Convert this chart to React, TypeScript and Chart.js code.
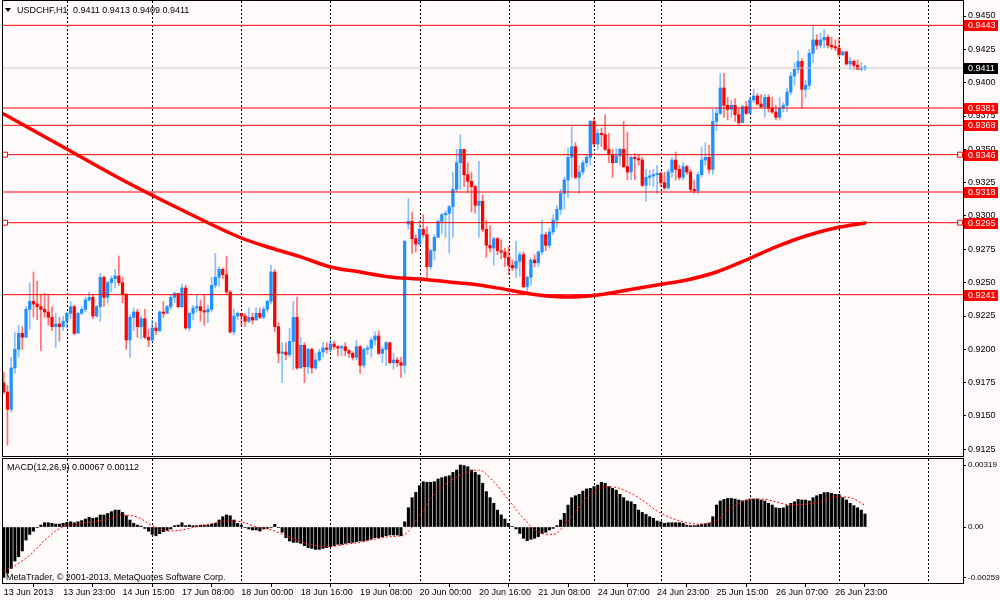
import { useEffect, useRef } from "react"
import { Chart, registerables } from "chart.js"

Chart.register(...registerables)

const FONT = "'Liberation Sans', Arial, sans-serif"
const BG = "#FFFAFA"
const UP = "#1E90FF"
const DOWN = "#FF0000"
const UP_WICK = "rgba(30, 144, 255, 0.55)"
const DOWN_WICK = "rgba(255, 0, 0, 0.55)"

// USDCHF H1, first bar 13 Jun 2013 07:00
const closes = [
  0.9168, 0.9155, 0.9186, 0.92, 0.9212, 0.9209, 0.923, 0.9236, 0.9234, 0.9232,
  0.923, 0.9228, 0.9224, 0.9217, 0.9219, 0.9217, 0.9221, 0.9227, 0.9232, 0.9212,
  0.9227, 0.923, 0.9237, 0.9239, 0.9225, 0.9232, 0.9254, 0.9239, 0.925, 0.9253,
  0.9255, 0.925, 0.9241, 0.9207, 0.9224, 0.9228, 0.9217, 0.9223, 0.9209, 0.9207,
  0.9216, 0.9214, 0.9228, 0.9227, 0.9232, 0.9239, 0.9242, 0.9232, 0.9246, 0.9216,
  0.9227, 0.9231, 0.9232, 0.9229, 0.9228, 0.923, 0.9248, 0.9254, 0.926, 0.9256,
  0.9243, 0.9213, 0.9225, 0.9227, 0.9225, 0.9221, 0.9224, 0.9222, 0.9227, 0.9224,
  0.923, 0.9236, 0.9258, 0.9217, 0.9197, 0.9198, 0.9196, 0.9206, 0.9224, 0.9186,
  0.9203, 0.9187, 0.92, 0.9186, 0.9192, 0.9198, 0.9201, 0.92, 0.9204, 0.9202,
  0.9201, 0.9202, 0.9199, 0.9197, 0.9194, 0.9202, 0.9188, 0.92, 0.9201, 0.9207,
  0.921, 0.9197, 0.92, 0.9205, 0.919, 0.9192, 0.919, 0.9188, 0.9281, 0.9296,
  0.9283, 0.9279, 0.929, 0.9286, 0.9262, 0.9274, 0.9284, 0.9296, 0.9301, 0.9302,
  0.9307, 0.932, 0.934, 0.935, 0.9331, 0.9326, 0.9322, 0.9308, 0.9311, 0.929,
  0.9278, 0.9276, 0.9283, 0.9274, 0.9273, 0.9269, 0.9263, 0.9261, 0.9266, 0.9271,
  0.9247, 0.9254, 0.9267, 0.9265, 0.9273, 0.9286, 0.9278, 0.9288, 0.9297, 0.9305,
  0.9317, 0.9327, 0.9344, 0.9352, 0.9329, 0.9333, 0.934, 0.9344, 0.9371, 0.9354,
  0.9362, 0.9361, 0.935, 0.9346, 0.934, 0.9345, 0.935, 0.9337, 0.9333, 0.9344,
  0.9343, 0.9342, 0.9323, 0.9329, 0.933, 0.9331, 0.9332, 0.9325, 0.9321, 0.9333,
  0.9342, 0.9335, 0.9329, 0.9337, 0.9333, 0.932, 0.9319, 0.9331, 0.9342, 0.9344,
  0.9335, 0.9371, 0.9377, 0.9396, 0.9383, 0.938, 0.9383, 0.9376, 0.937, 0.9382,
  0.9377, 0.9387, 0.939, 0.9384, 0.9382, 0.9389, 0.9381, 0.9378, 0.9374, 0.9381,
  0.9383, 0.9393, 0.9405, 0.941, 0.9416, 0.9395, 0.9398, 0.9422, 0.9432, 0.9428,
  0.9432, 0.9434, 0.9428, 0.9427, 0.9426, 0.9421, 0.9423, 0.9414, 0.9416, 0.9413,
  0.941, 0.9411, 0.9411,
]

const highs = [
  0.9183, 0.9173, 0.9194, 0.9213, 0.9218, 0.9217, 0.9232, 0.925, 0.9258, 0.9251,
  0.9241, 0.9242, 0.9241, 0.9232, 0.9227, 0.9224, 0.9225, 0.9228, 0.9236, 0.9233,
  0.9228, 0.9232, 0.9239, 0.9243, 0.9241, 0.9233, 0.9257, 0.9255, 0.9251, 0.9255,
  0.926, 0.927, 0.9254, 0.9242, 0.9226, 0.9231, 0.923, 0.9225, 0.923, 0.9215,
  0.9222, 0.922, 0.9229, 0.9236, 0.9233, 0.9241, 0.9243, 0.9242, 0.9249, 0.9248,
  0.9228, 0.9233, 0.9241, 0.9237, 0.9241, 0.9233, 0.9254, 0.9272, 0.9262, 0.9261,
  0.927, 0.9244, 0.923, 0.9228, 0.9227, 0.9227, 0.9231, 0.9227, 0.9231, 0.9231,
  0.9232, 0.9237, 0.9263, 0.926, 0.922, 0.9205, 0.9205, 0.9216, 0.9236, 0.9239,
  0.9209, 0.9205, 0.9201, 0.9201, 0.9197, 0.92, 0.9205, 0.9205, 0.9207, 0.9206,
  0.9203, 0.9203, 0.9205, 0.92, 0.9198, 0.9207, 0.9203, 0.9201, 0.9203, 0.9209,
  0.9213, 0.9214, 0.9202, 0.9206, 0.9205, 0.9197, 0.9194, 0.9194, 0.9282, 0.9313,
  0.9303, 0.9286, 0.9297, 0.9301, 0.9292, 0.9275, 0.9286, 0.9297, 0.9302, 0.9304,
  0.9308, 0.9333, 0.935, 0.9361, 0.935, 0.934, 0.9333, 0.9323, 0.9341, 0.9316,
  0.9297, 0.9293, 0.9284, 0.9284, 0.9282, 0.9276, 0.9277, 0.9267, 0.9281, 0.9273,
  0.9273, 0.9255, 0.9268, 0.9271, 0.9274, 0.9297, 0.9288, 0.9291, 0.9301, 0.9308,
  0.932, 0.9329, 0.9351, 0.9367, 0.9355, 0.9338, 0.9342, 0.9346, 0.9372, 0.9374,
  0.9365, 0.9366, 0.9376, 0.9362, 0.935, 0.9351, 0.9351, 0.9371, 0.9363, 0.9345,
  0.9347, 0.9346, 0.9344, 0.9335, 0.9334, 0.9335, 0.9338, 0.9333, 0.9333, 0.9335,
  0.9344, 0.9348, 0.9338, 0.934, 0.9338, 0.9335, 0.9327, 0.9333, 0.9352, 0.9355,
  0.9353, 0.938, 0.9381, 0.9407, 0.9407, 0.9389, 0.9387, 0.9388, 0.938, 0.9383,
  0.9386, 0.9389, 0.9395, 0.9392, 0.9391, 0.9391, 0.9391, 0.9389, 0.9383, 0.9389,
  0.9385, 0.9396, 0.9408, 0.9415, 0.9424, 0.9418, 0.9402, 0.9425, 0.9443, 0.9436,
  0.9437, 0.944, 0.9436, 0.9434, 0.9432, 0.9434, 0.9424, 0.9424, 0.9419, 0.9417,
  0.9417, 0.9415, 0.9413,
]

const lows = [
  0.9167, 0.9128, 0.9153, 0.9182, 0.9194, 0.92, 0.9209, 0.9215, 0.9224, 0.9222,
  0.9199, 0.9224, 0.9218, 0.9214, 0.9201, 0.9206, 0.9214, 0.9216, 0.9223, 0.9211,
  0.9213, 0.9226, 0.9228, 0.9236, 0.9223, 0.9224, 0.9221, 0.9232, 0.9235, 0.9243,
  0.9246, 0.9248, 0.9235, 0.92, 0.9194, 0.9214, 0.9209, 0.9208, 0.9208, 0.9202,
  0.9206, 0.9211, 0.9213, 0.9224, 0.9227, 0.923, 0.9235, 0.9231, 0.9231, 0.9215,
  0.9214, 0.9222, 0.9228, 0.9221, 0.9218, 0.922, 0.9228, 0.9246, 0.9247, 0.9253,
  0.9241, 0.9212, 0.9211, 0.9222, 0.9218, 0.9217, 0.922, 0.9219, 0.9222, 0.9223,
  0.9223, 0.9228, 0.9234, 0.9213, 0.919, 0.9175, 0.9192, 0.9194, 0.9185, 0.9185,
  0.9186, 0.9175, 0.9182, 0.9182, 0.9185, 0.9191, 0.9194, 0.9197, 0.9198, 0.92,
  0.9195, 0.9195, 0.9195, 0.9194, 0.9192, 0.9192, 0.9182, 0.9186, 0.9196, 0.9194,
  0.9203, 0.9196, 0.919, 0.9188, 0.9189, 0.9185, 0.9187, 0.9179, 0.9182, 0.929,
  0.9272, 0.9273, 0.9278, 0.9284, 0.9253, 0.926, 0.9267, 0.9284, 0.9287, 0.9284,
  0.9272, 0.9284, 0.9318, 0.932, 0.9322, 0.9318, 0.9303, 0.9302, 0.9284, 0.9288,
  0.9269, 0.9273, 0.9263, 0.9271, 0.9268, 0.9262, 0.9256, 0.9259, 0.9254, 0.9255,
  0.9246, 0.9243, 0.9248, 0.9262, 0.9262, 0.9271, 0.9274, 0.9276, 0.9286, 0.9291,
  0.9301, 0.9305, 0.9314, 0.9329, 0.9328, 0.9317, 0.9331, 0.9337, 0.9338, 0.9352,
  0.935, 0.9352, 0.9349, 0.934, 0.9329, 0.934, 0.9338, 0.9336, 0.9327, 0.9327,
  0.9327, 0.9338, 0.9322, 0.9311, 0.9323, 0.9322, 0.9317, 0.9322, 0.932, 0.932,
  0.9329, 0.9327, 0.9327, 0.9327, 0.9331, 0.9318, 0.9317, 0.9317, 0.9329, 0.9338,
  0.9332, 0.9331, 0.9364, 0.9376, 0.9374, 0.9372, 0.9374, 0.9371, 0.9368, 0.937,
  0.9376, 0.9377, 0.9385, 0.9383, 0.9381, 0.9374, 0.9378, 0.9377, 0.9372, 0.9372,
  0.9378, 0.9378, 0.9391, 0.9398, 0.9407, 0.9381, 0.9389, 0.9395, 0.9415, 0.9425,
  0.9426, 0.9426, 0.9426, 0.9425, 0.9424, 0.9419, 0.942, 0.9413, 0.941, 0.941,
  0.941, 0.9409, 0.9409,
]

// each bar opens at the previous close, except these
const firstOpen = 0.9175
const gapOpens: Record<number, number> = { 109: 0.9294 }

// moving average (thick red line)
const maBars = [0, 16, 32, 48, 64, 72, 80, 88, 96, 104, 112, 120, 128, 136, 144, 152, 160, 168, 176, 184, 192, 200, 208, 216, 224, 232]
const maValues = [
  0.93765, 0.93518, 0.9327, 0.93045, 0.92835, 0.9276, 0.92693, 0.92618, 0.9258, 0.92543, 0.92528, 0.92505, 0.92483,
  0.92445, 0.92408, 0.92393, 0.92408, 0.92445, 0.92483, 0.9252, 0.9258, 0.9267, 0.92768, 0.9285, 0.9291, 0.92948,
]

const levels = [0.9443, 0.9381, 0.9368, 0.9346, 0.9318, 0.9295, 0.9241]
const markedLevels = [0.9346, 0.9295]
const levelAnchorBars = [0.35, 257.6]
const bid = 0.9411
const priceTicks = [0.945, 0.9425, 0.94, 0.9375, 0.935, 0.9325, 0.93, 0.9275, 0.925, 0.9225, 0.92, 0.9175, 0.915, 0.9125]

// MACD(12,26,9)
const macd = [
  -0.00259, -0.00238, -0.00213, -0.00175, -0.00153, -0.00123, -0.00067, -0.00038, -0.00021, -0.00003,
  0.0001, 0.00022, 0.00022, 0.00019, 0.00015, 0.00015, 0.00019, 0.00024, 0.00027, 0.00022,
  0.00027, 0.00033, 0.00041, 0.0005, 0.00045, 0.00048, 0.00062, 0.00062, 0.0007, 0.00079,
  0.00087, 0.00087, 0.00075, 0.00058, 0.00036, 0.00019, 0.0001, 0.00005, -0.00007, -0.00021,
  -0.00038, -0.00045, -0.00034, -0.00024, -0.00017, -0.0001, 0.00007, 0.0001, 0.00022, 0.00007,
  0.0001, 0.00007, 0.00007, 0.0001, 0.0001, 0.0001, 0.00014, 0.00019, 0.00036, 0.00053,
  0.00062, 0.00058, 0.00036, 0.00019, 0.0001, -0.00003, -0.0001, -0.00015, -0.00015, -0.00021,
  -0.0001, -0.00007, -0.00003, 0.00014, -0.00003, -0.00027, -0.00055, -0.00072, -0.00079, -0.00079,
  -0.00084, -0.00096, -0.00106, -0.0011, -0.00115, -0.00115, -0.0011, -0.00106, -0.00101, -0.00096,
  -0.00089, -0.00089, -0.00084, -0.00081, -0.00079, -0.00075, -0.00072, -0.00072, -0.00067, -0.00062,
  -0.00055, -0.00055, -0.0005, -0.00045, -0.00041, -0.00041, -0.00041, -0.00045, 0.00027, 0.00099,
  0.00151, 0.00178, 0.00213, 0.00233, 0.0023, 0.0023, 0.00233, 0.00247, 0.00254, 0.00259,
  0.00264, 0.00281, 0.00293, 0.00319, 0.00316, 0.0031, 0.00293, 0.00281, 0.00268, 0.00225,
  0.00182, 0.00151, 0.00122, 0.00087, 0.00062, 0.00041, 0.00019, 0.00002, -0.0001, -0.00033,
  -0.00058, -0.0007, -0.00063, -0.00058, -0.0005, -0.00033, -0.00027, -0.00015, -0.00007, 0.00007,
  0.00036, 0.0007, 0.00113, 0.00151, 0.00161, 0.00168, 0.00185, 0.00196, 0.00199, 0.00208,
  0.00216, 0.0023, 0.00225, 0.00208, 0.00199, 0.0019, 0.00168, 0.00151, 0.00134, 0.0013,
  0.00117, 0.00087, 0.00075, 0.00065, 0.00053, 0.00045, 0.00031, 0.00027, 0.00019, 0.00022,
  0.00022, 0.00022, 0.00022, 0.00019, 0.0001, 0.00007, 0.00007, 0.0001, 0.00015, 0.00017,
  0.00021, 0.00053, 0.00113, 0.00134, 0.00142, 0.00147, 0.00147, 0.00144, 0.00139, 0.00135,
  0.00139, 0.00144, 0.00144, 0.00144, 0.00139, 0.00134, 0.00122, 0.00113, 0.00099, 0.00096,
  0.00099, 0.0011, 0.00122, 0.0013, 0.00142, 0.00139, 0.00139, 0.00134, 0.00151, 0.00161,
  0.00168, 0.00177, 0.00178, 0.00173, 0.00168, 0.00168, 0.00151, 0.00139, 0.00122, 0.0011,
  0.00099, 0.00087, 0.00067,
]
const signalBars = [
  0, 4, 8, 12, 16, 20, 24, 28, 32, 36, 40, 44, 48, 52, 56, 60, 64, 68, 72, 76, 80, 84, 88, 92, 96, 100, 104, 108,
  112, 116, 120, 124, 128, 132, 136, 140, 144, 148, 152, 156, 160, 164, 168, 172, 176, 180, 184, 188, 192, 196,
  200, 204, 208, 212, 216, 220, 224, 228, 232,
]
const signalValues = [
  -0.00226, -0.00187, -0.00127, -0.0005, 0.00002, 0.00017, 0.00027, 0.00039, 0.00062, 0.00051, 0.00007, -0.00021,
  -0.00015, 0.00002, 0.00017, 0.00031, 0.00027, 0, -0.00014, -0.00045, -0.00075, -0.00096, -0.00101, -0.00089,
  -0.00079, -0.00062, -0.0005, -0.00038, 0.0006, 0.00168, 0.00233, 0.00276, 0.00293, 0.00233, 0.00139, 0.00045,
  -0.00027, -0.00038, 0.00031, 0.00127, 0.00196, 0.00206, 0.00182, 0.00139, 0.00082, 0.00045, 0.00022, 0.00014,
  0.00034, 0.00099, 0.00137, 0.00144, 0.0013, 0.00113, 0.00117, 0.0013, 0.00156, 0.00151, 0.00112,
]
const macdTicks = [0.00319, 0, -0.00259]

// time axis: a label every 16 bars, dashed separators at day starts
const timeLabels = [
  "13 Jun 2013", "13 Jun 23:00", "14 Jun 15:00", "17 Jun 08:00", "18 Jun 00:00", "18 Jun 16:00", "19 Jun 08:00",
  "20 Jun 00:00", "20 Jun 16:00", "21 Jun 08:00", "24 Jun 07:00", "24 Jun 23:00", "25 Jun 15:00", "26 Jun 07:00",
  "26 Jun 23:00",
]
const labelStep = 16
const dayStartBars = [17, 40, 64, 88, 112, 136, 159, 177, 201, 225, 249]

const X_MIN = -0.2
const X_MAX = 258.4

const background = {
  id: "background",
  beforeDraw(chart: any) {
    const { ctx, width, height } = chart
    ctx.save()
    ctx.fillStyle = BG
    ctx.fillRect(0, 0, width, height)
    ctx.restore()
  },
}

const daySeparators = {
  id: "daySeparators",
  beforeDatasetsDraw(chart: any) {
    const { ctx, chartArea: a, scales } = chart
    ctx.save()
    ctx.strokeStyle = "#000"
    ctx.lineWidth = 1
    ctx.setLineDash([2, 2])
    for (const d of dayStartBars) {
      const px = Math.round(scales.x.getPixelForValue(d)) + 0.5
      ctx.beginPath()
      ctx.moveTo(px, a.top)
      ctx.lineTo(px, a.bottom)
      ctx.stroke()
    }
    ctx.restore()
  },
}

const frame = {
  id: "frame",
  afterDraw(chart: any) {
    const { ctx, chartArea: a } = chart
    ctx.save()
    ctx.strokeStyle = "#000"
    ctx.lineWidth = 1
    ctx.strokeRect(Math.round(a.left) - 0.5, Math.round(a.top) - 0.5, Math.round(a.width) + 1, Math.round(a.height) + 1)
    ctx.restore()
  },
}

const priceTags = {
  id: "priceTags",
  afterDraw(chart: any) {
    const { ctx, chartArea: a, scales } = chart
    ctx.save()
    ctx.font = `9px ${FONT}`
    ctx.textBaseline = "middle"
    const tag = (v: number, fill: string) => {
      const py = Math.round(scales.y.getPixelForValue(v))
      ctx.fillStyle = fill
      ctx.fillRect(a.right + 1, py - 5, 34, 11)
      ctx.fillStyle = "#fff"
      ctx.fillText(v.toFixed(4), a.right + 5, py + 0.5)
    }
    levels.forEach((l) => tag(l, DOWN))
    tag(bid, "#000")
    ctx.restore()
  },
}

const axisFont = { family: FONT, size: 9 }

function fitRight(scale: any) {
  scale.width = 37
  scale.paddingTop = 0
  scale.paddingBottom = 0
}

function PriceChart() {
  const ref = useRef<HTMLCanvasElement>(null)

  useEffect(() => {
    if (!ref.current) return
    const opens = closes.map((c, i) => gapOpens[i] ?? (i === 0 ? firstOpen : closes[i - 1]))
    const up = closes.map((c, i) => c >= opens[i])

    const chart = new Chart(ref.current, {
      type: "bar",
      data: {
        datasets: [
          ...markedLevels.map((l) => ({
            type: "line",
            data: levelAnchorBars.map((x) => ({ x, y: l })),
            showLine: false,
            pointStyle: "rect",
            pointRadius: 3.5,
            pointBorderWidth: 1,
            pointBorderColor: DOWN,
            pointBackgroundColor: BG,
            order: 0,
          })),
          ...levels.map((l) => ({
            type: "line",
            data: [{ x: X_MIN, y: l }, { x: X_MAX, y: l }],
            borderColor: DOWN,
            borderWidth: 1,
            pointRadius: 0,
            order: 1,
          })),
          {
            type: "line",
            data: [{ x: X_MIN, y: bid }, { x: X_MAX, y: bid }],
            borderColor: "#C8C8C8",
            borderWidth: 1,
            pointRadius: 0,
            order: 2,
          },
          {
            type: "line",
            data: maBars.map((x, k) => ({ x, y: maValues[k] })),
            borderColor: DOWN,
            borderWidth: 3.5,
            pointRadius: 0,
            cubicInterpolationMode: "monotone",
            borderCapStyle: "round",
            order: 3,
          },
          {
            type: "bar",
            data: closes.map((c, i) => ({ x: i, y: [opens[i], c] })),
            backgroundColor: up.map((u) => (u ? UP : DOWN)),
            barThickness: 2.6,
            minBarLength: 1,
            grouped: false,
            order: 4,
          },
          {
            type: "bar",
            data: closes.map((_, i) => ({ x: i, y: [lows[i], highs[i]] })),
            backgroundColor: up.map((u) => (u ? UP_WICK : DOWN_WICK)),
            barThickness: 1,
            grouped: false,
            order: 5,
          },
        ] as any,
      },
      options: {
        animation: false,
        responsive: false,
        events: [],
        layout: { autoPadding: false, padding: { left: 3, top: 1, right: 0, bottom: 2 } },
        plugins: { legend: { display: false }, tooltip: { enabled: false } },
        scales: {
          x: { type: "linear", min: X_MIN, max: X_MAX, display: false, offset: false },
          y: {
            position: "right",
            min: 0.912,
            max: 0.946125,
            afterBuildTicks: (s: any) => {
              s.ticks = [...priceTicks].sort((a, b) => a - b).map((v) => ({ value: v }))
            },
            afterFit: fitRight,
            ticks: {
              autoSkip: false,
              padding: 2,
              color: "#000",
              font: axisFont,
              callback: (v: any) => Number(v).toFixed(4),
            },
            grid: { drawOnChartArea: false, drawTicks: true, tickLength: 3, tickColor: "#000" },
            border: { display: true, color: "#000" },
          },
        },
      } as any,
      plugins: [background, daySeparators, frame, priceTags],
    })

    return () => chart.destroy()
  }, [])

  return <canvas ref={ref} width={1000} height={458} style={{ position: "absolute", left: 0, top: 0 }} />
}

function MacdChart() {
  const ref = useRef<HTMLCanvasElement>(null)

  useEffect(() => {
    if (!ref.current) return
    const chart = new Chart(ref.current, {
      type: "bar",
      data: {
        datasets: [
          {
            type: "line",
            data: signalBars.map((x, k) => ({ x, y: signalValues[k] })),
            borderColor: DOWN,
            borderWidth: 1,
            borderDash: [2, 2],
            pointRadius: 0,
            cubicInterpolationMode: "monotone",
            order: 1,
          },
          {
            type: "bar",
            data: macd.map((v, i) => ({ x: i, y: v })),
            backgroundColor: "#000",
            barThickness: 2.4,
            grouped: false,
            order: 2,
          },
        ] as any,
      },
      options: {
        animation: false,
        responsive: false,
        events: [],
        layout: { autoPadding: false, padding: { left: 3, top: 1, right: 0, bottom: 0 } },
        plugins: { legend: { display: false }, tooltip: { enabled: false } },
        scales: {
          x: {
            type: "linear",
            min: X_MIN,
            max: X_MAX,
            offset: false,
            afterBuildTicks: (s: any) => {
              s.ticks = timeLabels.map((_, k) => ({ value: k * labelStep }))
            },
            afterFit: (s: any) => {
              s.height = 17
              s.paddingLeft = 0
              s.paddingRight = 0
            },
            ticks: {
              autoSkip: false,
              maxRotation: 0,
              align: "start",
              padding: 0,
              color: "#000",
              font: axisFont,
              callback: (v: any) => timeLabels[Math.round(Number(v) / labelStep)] ?? "",
            },
            grid: { drawOnChartArea: false, drawTicks: true, tickLength: 4, tickColor: "#000" },
            border: { display: true, color: "#000" },
          },
          y: {
            position: "right",
            min: -0.00288,
            max: 0.0035,
            afterBuildTicks: (s: any) => {
              s.ticks = [...macdTicks].sort((a, b) => a - b).map((v) => ({ value: v }))
            },
            afterFit: fitRight,
            ticks: {
              autoSkip: false,
              padding: 2,
              color: "#000",
              font: { family: FONT, size: 8 },
              callback: (v: any) => (Number(v) === 0 ? "0.00" : Number(v).toFixed(5)),
            },
            grid: { drawOnChartArea: false, drawTicks: true, tickLength: 3, tickColor: "#000" },
            border: { display: true, color: "#000" },
          },
        },
      } as any,
      plugins: [background, daySeparators, frame],
    })

    return () => chart.destroy()
  }, [])

  return <canvas ref={ref} width={1000} height={142} style={{ position: "absolute", left: 0, top: 458 }} />
}

const label = (left: number, top: number): React.CSSProperties => ({
  position: "absolute",
  left,
  top,
  fontSize: 9,
  lineHeight: "12px",
  whiteSpace: "pre",
  color: "#000",
})

export default function App() {
  return (
    <div
      style={{
        position: "fixed",
        left: 0,
        top: 0,
        width: 1000,
        height: 600,
        background: BG,
        overflow: "hidden",
        fontFamily: FONT,
      }}
    >
      <PriceChart />
      <MacdChart />
      <div
        style={{
          position: "absolute",
          left: 5,
          top: 8,
          width: 0,
          height: 0,
          borderLeft: "3px solid transparent",
          borderRight: "3px solid transparent",
          borderTop: "4px solid #000",
        }}
      />
      <div style={label(17, 4)}>USDCHF,H1</div>
      <div style={label(73, 4)}>0.9411 0.9413 0.9409 0.9411</div>
      <div style={label(7, 461)}>MACD(12,26,9) 0.00067 0.00112</div>
      <div style={label(6, 571)}>MetaTrader, © 2001-2013, MetaQuotes Software Corp.</div>
    </div>
  )
}
